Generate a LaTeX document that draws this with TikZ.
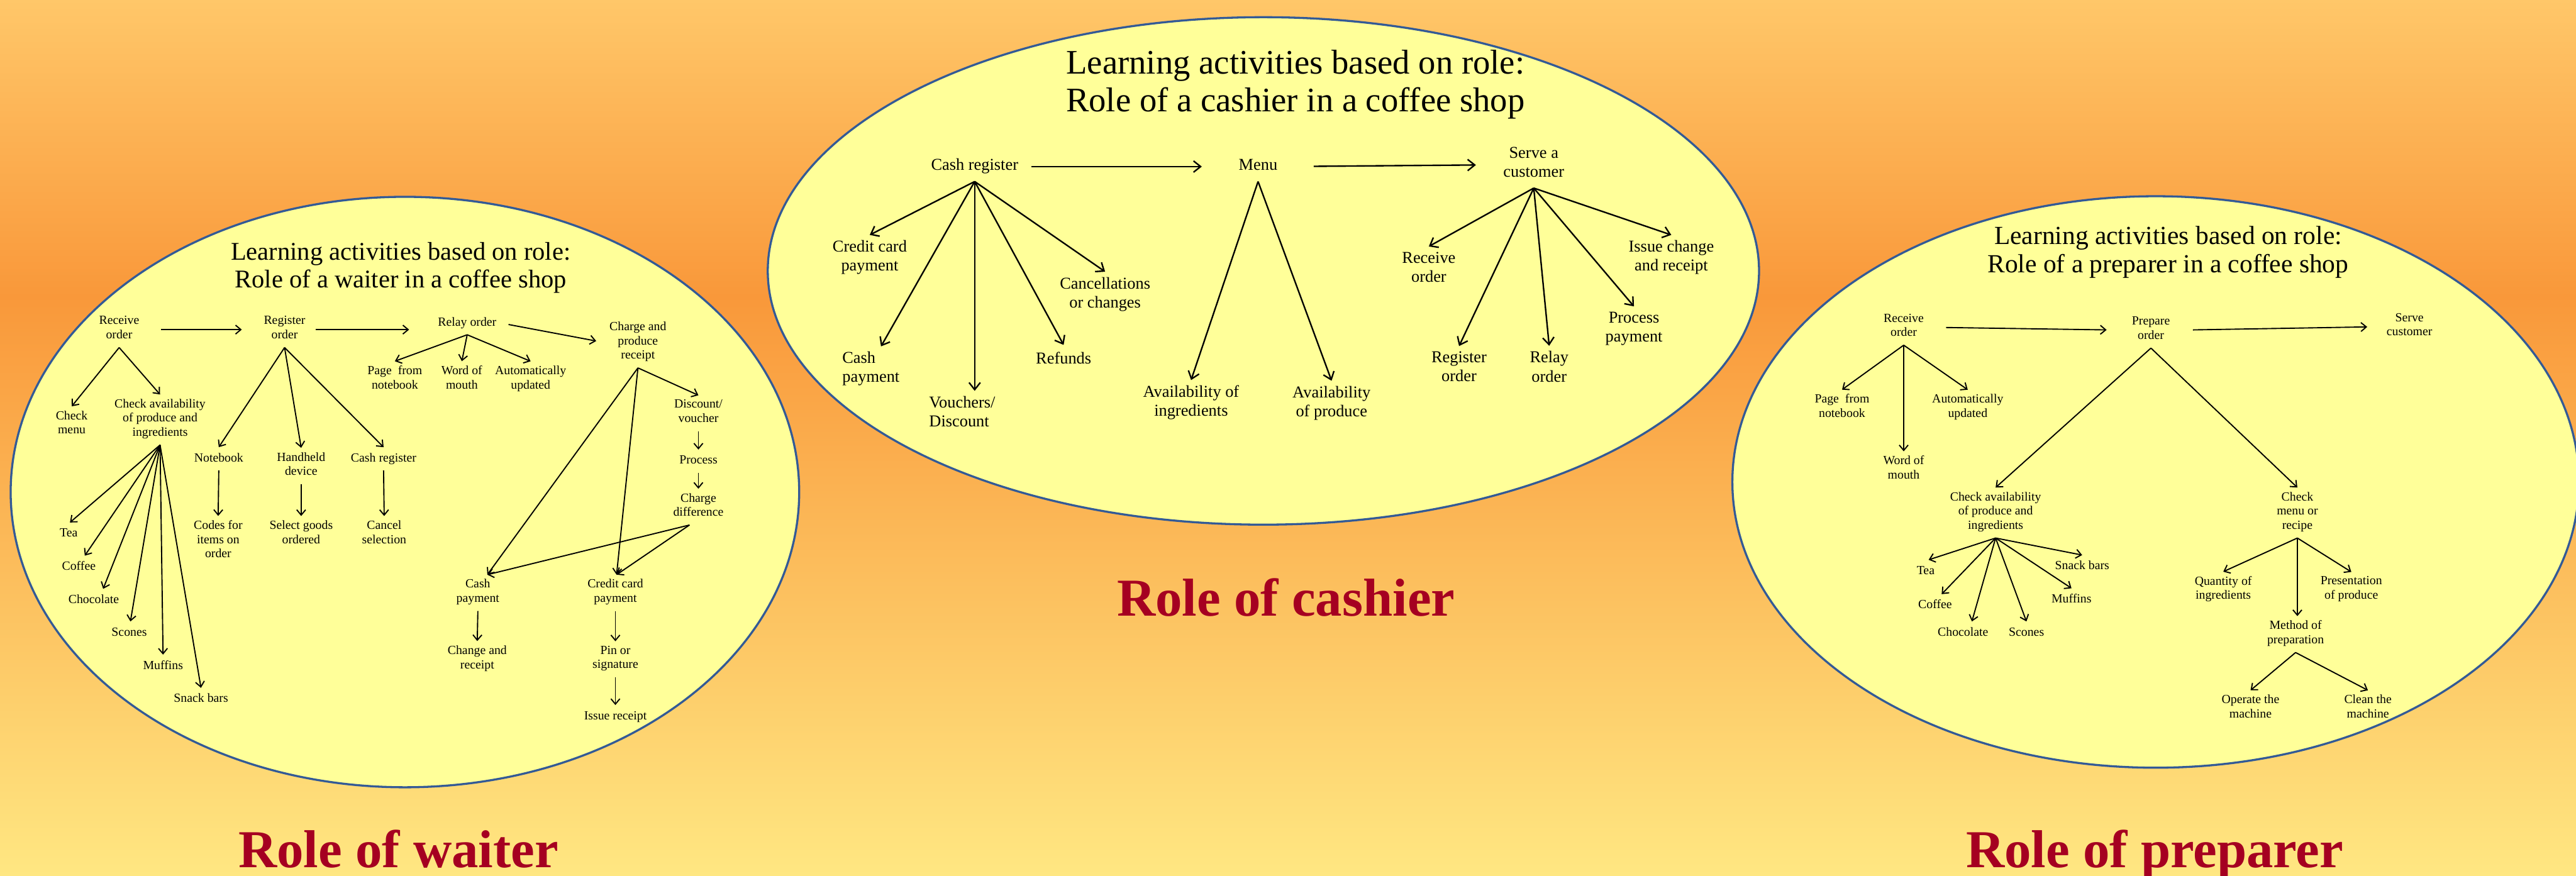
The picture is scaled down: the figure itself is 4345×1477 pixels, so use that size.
\documentclass[tikz,border=0pt]{standalone}
\usepackage{fontspec}
\setmainfont{Liberation Serif}
\usetikzlibrary{arrows.meta}

\definecolor{bgtop}{RGB}{255,199,105}
\definecolor{bgmid}{RGB}{249,152,58}
\definecolor{bgbot}{RGB}{255,231,130}
\definecolor{ovalfill}{RGB}{255,255,153}
\definecolor{ovalline}{RGB}{51,90,150}
\definecolor{rolered}{RGB}{165,0,33}

\begin{document}
\begin{tikzpicture}[x=1pt,y=-1pt,
  oval/.style={fill=ovalfill, draw=ovalline, line width=3.5pt},
  lbl/.style={align=center, inner sep=7.5pt, font=\fontsize{21}{24}\selectfont,
    execute at begin node=\strut, execute at end node=\strut},
  clbl/.style={lbl, inner sep=9pt, font=\fontsize{28}{32}\selectfont},
  arr/.style={line width=2pt, -{Straight Barb[length=9pt,width=15pt]}},
  carr/.style={line width=2.5pt, -{Straight Barb[length=12pt,width=19pt]}},
  title/.style={anchor=base, inner sep=0pt},
  role/.style={anchor=base west, inner sep=0pt, text=rolered,
    font=\fontsize{90}{100}\selectfont\bfseries}]

\useasboundingbox (0,0) rectangle (4345,1477);
\clip (0,0) rectangle (4345,1477);

% background gradient
\shade[top color=bgtop, bottom color=bgmid] (0,0) rectangle (4345,500);
\shade[top color=bgmid, bottom color=bgbot] (0,499) rectangle (4345,1477);

% the three ovals
\draw[oval] (683,830) ellipse [x radius=665pt, y radius=498pt];
\draw[oval] (2131,457) ellipse [x radius=836pt, y radius=428pt];
\draw[oval] (3636,813) ellipse [x radius=714pt, y radius=482pt];

% ---------------- waiter ----------------
\node[title, font=\fontsize{43}{46}\selectfont] (wt1) at (676,439) {Learning activities based on role:};
\node[title, font=\fontsize{43}{46}\selectfont] (wt2) at (676,485) {Role of a waiter in a coffee shop};

\node[lbl] (wrecv)   at (201,556)  {Receive\\order};
\node[lbl] (wreg)    at (480,556)  {Register\\order};
\node[lbl] (wrelay)  at (788,545)  {Relay order};
\node[lbl] (wcharge) at (1076,578) {Charge and\\produce\\receipt};
\node[lbl] (wmenu)   at (121,716)  {Check\\menu};
\node[lbl] (wavail)  at (270,708)  {Check availability\\of produce and\\ingredients};
\node[lbl] (wtea)    at (116,901)  {Tea};
\node[lbl] (wcoffee) at (133,957)  {Coffee};
\node[lbl] (wchoc)   at (158,1013) {Chocolate};
\node[lbl] (wscones) at (218,1068) {Scones};
\node[lbl] (wmuff)   at (275,1124) {Muffins};
\node[lbl] (wsnack)  at (339,1180) {Snack bars};
\node[lbl] (wnote)   at (369,774)  {Notebook};
\node[lbl] (whand)   at (508,786)  {Handheld\\device};
\node[lbl] (wcreg)   at (647,774)  {Cash register};
\node[lbl] (wcodes)  at (368,913)  {Codes for\\items on\\order};
\node[lbl] (wselect) at (508,901)  {Select goods\\ordered};
\node[lbl] (wcancel) at (648,901)  {Cancel\\selection};
\node[lbl] (wpage)   at (666,640)  {Page\ \ from\\notebook};
\node[lbl] (wword)   at (779,640)  {Word of\\mouth};
\node[lbl] (wauto)   at (895,640)  {Automatically\\updated};
\node[lbl] (wdisc)   at (1178,697) {Discount/\\voucher};
\node[lbl] (wproc)   at (1178,778) {Process};
\node[lbl] (wchd)    at (1178,855) {Charge\\difference};
\node[lbl] (wcash)   at (806,1000) {Cash\\payment};
\node[lbl] (wcard)   at (1038,1000){Credit card\\payment};
\node[lbl] (wchange) at (805,1112) {Change and\\receipt};
\node[lbl] (wpin)    at (1038,1112){Pin or\\signature};
\node[lbl] (wissue)  at (1038,1209){Issue receipt};

\draw[arr, shorten <=29pt, shorten >=29.5pt] (wrecv.east) -- (wreg.west);
\draw[arr, shorten <=9.5pt, shorten >=41pt] (wreg.east) -- (wreg.east -| wrelay.west);
\draw[arr, shorten <=13pt, shorten >=15pt] (wrelay.east) -- (wcharge.west);

\draw[arr] (wrecv.south) -- (wmenu.north);
\draw[arr] (wrecv.south) -- (wavail.north);
\draw[arr] (wavail.south) -- ([xshift=2pt]wtea.north);
\draw[arr] (wavail.south) -- ([xshift=10pt]wcoffee.north);
\draw[arr] (wavail.south) -- ([xshift=16pt]wchoc.north);
\draw[arr] (wavail.south) -- ([xshift=2pt]wscones.north);
\draw[arr] (wavail.south) -- (wmuff.north);
\draw[arr] (wavail.south) -- (wsnack.north);

\draw[arr] (wreg.south) -- (wnote.north);
\draw[arr] (wreg.south) -- (whand.north);
\draw[arr] (wreg.south) -- (wcreg.north);
\draw[arr] (wnote.south) -- (wcodes.north);
\draw[arr] (whand.south) -- (wselect.north);
\draw[arr] (wcreg.south) -- (wcancel.north);

\draw[arr] (wrelay.south) -- (wpage.north);
\draw[arr] (wrelay.south) -- (wword.north);
\draw[arr] (wrelay.south) -- (wauto.north);

\draw[arr] (wcharge.south) -- (wdisc.north);
\draw[arr] (wdisc.south) -- (wproc.north);
\draw[arr] (wproc.south) -- (wchd.north);
\draw[arr] (wcharge.south) -- ([xshift=16pt]wcash.north);
\draw[arr] (wcharge.south) -- ([xshift=2pt]wcard.north);
\draw[arr] ([xshift=-15pt]wchd.south) -- ([xshift=16pt]wcash.north);
\draw[arr] ([xshift=-15pt]wchd.south) -- ([xshift=2pt]wcard.north);
\draw[arr] (wcash.south) -- (wchange.north);
\draw[arr] (wcard.south) -- (wpin.north);
\draw[arr] (wpin.south) -- (wissue.north);

% ---------------- cashier ----------------
\node[title, font=\fontsize{58}{63}\selectfont] (ct1) at (2185,125) {Learning activities based on role:};
\node[title, font=\fontsize{58}{63}\selectfont] (ct2) at (2185,188) {Role of a cashier in a coffee shop};

\node[clbl] (ccreg)   at (1644,281) {Cash register};
\node[clbl] (cmenu)   at (2122,281) {Menu};
\node[clbl] (cserve)  at (2587,278) {Serve a\\customer};
\node[clbl] (ccard)   at (1467,436) {Credit card\\payment};
\node[clbl, align=left] (ccash)  at (1469,624) {Cash\\payment};
\node[clbl, align=left] (cvouch) at (1623,699) {Vouchers/\\Discount};
\node[clbl] (crefund) at (1794,607) {Refunds};
\node[clbl] (ccancel) at (1864,498) {Cancellations\\or changes};
\node[clbl] (cingr)   at (2009,681) {Availability of\\ingredients};
\node[clbl] (cprod)   at (2246,682) {Availability\\of produce};
\node[clbl] (crecv)   at (2410,455) {Receive\\order};
\node[clbl] (cregord) at (2461,623) {Register\\order};
\node[clbl] (crelay)  at (2613,623) {Relay\\order};
\node[clbl] (cproc)   at (2756,556) {Process\\payment};
\node[clbl] (cissue)  at (2819,436) {Issue change\\and receipt};

\draw[carr, shorten <=13pt, shorten >=53pt] (ccreg.east) -- (cmenu.west);
\draw[carr, shorten <=52pt, shorten >=37pt] (cmenu.east) -- (cserve.west);

\draw[carr] (ccreg.south) -- (ccard.north);
\draw[carr] (ccreg.south) -- ([xshift=17pt]ccash.north);
\draw[carr] (ccreg.south) -- (ccreg.south |- cvouch.north);
\draw[carr] (ccreg.south) -- (crefund.north);
\draw[carr] (ccreg.south) -- (ccancel.north);

\draw[carr] (cmenu.south) -- (cingr.north);
\draw[carr] (cmenu.south) -- (cprod.north);

\draw[carr] (cserve.south) -- (crecv.north);
\draw[carr] (cserve.south) -- (cregord.north);
\draw[carr] (cserve.south) -- (crelay.north);
\draw[carr] (cserve.south) -- (cproc.north);
\draw[carr] (cserve.south) -- (cissue.north);

% ---------------- preparer ----------------
\node[title, font=\fontsize{44}{48}\selectfont] (pt1) at (3657,412) {Learning activities based on role:};
\node[title, font=\fontsize{44}{48}\selectfont] (pt2) at (3657,460) {Role of a preparer in a coffee shop};

\node[lbl] (precv)   at (3211,552)  {Receive\\order};
\node[lbl] (pprep)   at (3628,557)  {Prepare\\order};
\node[lbl] (pserve)  at (4064,551)  {Serve\\customer};
\node[lbl] (ppage)   at (3107,688)  {Page\ \ from\\notebook};
\node[lbl] (pword)   at (3211,792)  {Word of\\mouth};
\node[lbl] (pauto)   at (3319,688)  {Automatically\\updated};
\node[lbl] (pavail)  at (3366,865)  {Check availability\\of produce and\\ingredients};
\node[lbl] (pmenu)   at (3875,865)  {Check\\menu or\\recipe};
\node[lbl] (ptea)    at (3248,964)  {Tea};
\node[lbl] (pcoffee) at (3264,1022) {Coffee};
\node[lbl] (pchoc)   at (3311,1068) {Chocolate};
\node[lbl] (pscones) at (3418,1068) {Scones};
\node[lbl] (pmuff)   at (3494,1012) {Muffins};
\node[lbl] (psnack)  at (3512,956)  {Snack bars};
\node[lbl] (pqty)    at (3750,995)  {Quantity of\\ingredients};
\node[lbl] (pmethod) at (3872,1070) {Method of\\preparation};
\node[lbl] (ppres)   at (3966,995)  {Presentation\\of produce};
\node[lbl] (poper)   at (3796,1195) {Operate the\\machine};
\node[lbl] (pclean)  at (3994,1195) {Clean the\\machine};

\draw[arr, shorten <=30pt, shorten >=35pt] (precv.east) -- (pprep.west);
\draw[arr, shorten <=31pt, shorten >=25pt] (pprep.east) -- (pserve.west);

\draw[arr] (precv.south) -- (ppage.north);
\draw[arr] (precv.south) -- (pword.north);
\draw[arr] (precv.south) -- (pauto.north);

\draw[arr] (pprep.south) -- (pavail.north);
\draw[arr] (pprep.south) -- (pmenu.north);

\draw[arr] (pavail.south) -- ([xshift=5pt]ptea.north);
\draw[arr] (pavail.south) -- ([xshift=11pt]pcoffee.north);
\draw[arr] (pavail.south) -- ([xshift=15pt]pchoc.north);
\draw[arr] (pavail.south) -- (pscones.north);
\draw[arr] (pavail.south) -- (pmuff.north);
\draw[arr] (pavail.south) -- (psnack.north);

\draw[arr] (pmenu.south) -- (pqty.north);
\draw[arr] (pmenu.south) -- (pmenu.south |- pmethod.north);
\draw[arr] (pmenu.south) -- (ppres.north);
\draw[arr] (pmethod.south) -- (poper.north);
\draw[arr] (pmethod.south) -- (pclean.north);

% role captions
\node[role] (rwaiter)  at (402,1463)  {Role of waiter};
\node[role] (rcashier) at (1884,1039) {Role of cashier};
\node[role] (rprep)    at (3316,1463) {Role of preparer};

\end{tikzpicture}
\end{document}
